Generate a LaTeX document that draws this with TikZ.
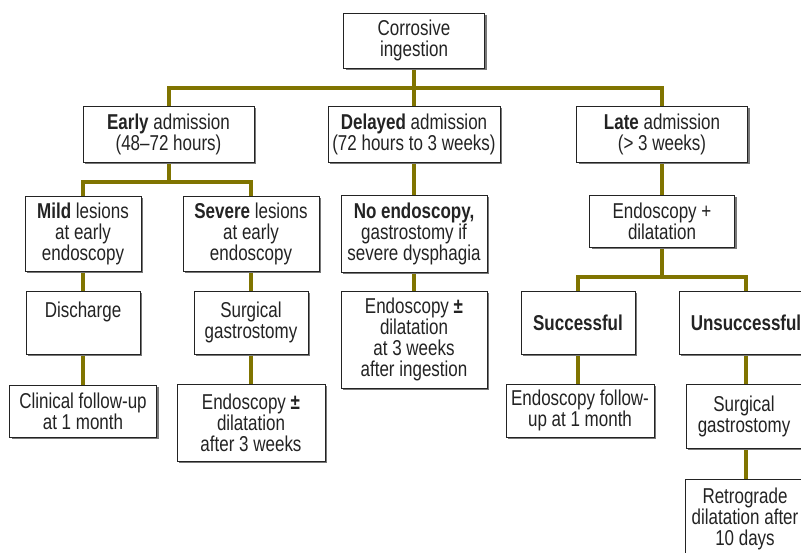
\documentclass[tikz,border=0pt]{standalone}
\usepackage{fontspec}
\setmainfont[FakeStretch=0.79]{Liberation Sans}
\usetikzlibrary{shadows,backgrounds}
\definecolor{olive}{RGB}{128,116,0}
\definecolor{txt}{RGB}{35,35,35}
\definecolor{shd}{RGB}{120,120,120}
\tikzset{
  box/.style={draw=txt, line width=0.9pt, fill=white, text=txt, align=center,
    inner sep=2pt, font=\fontsize{21.5}{21}\selectfont,
    drop shadow={shadow xshift=2.2pt, shadow yshift=-2.2pt, opacity=1, fill=shd}},
  conn/.style={draw=olive, line width=4pt}
}
\begin{document}
\begin{tikzpicture}[x=1pt,y=-1pt]
\clip (0,0) rectangle (801,552);
\useasboundingbox (0,0) rectangle (801,552);
% top level
\node[box, minimum width=141, minimum height=55] (root) at (414,40.5) {Corrosive\\ingestion};
\node[box, minimum width=171, minimum height=56] (early) at (168.5,134) {\textbf{Early} admission\\(48–72 hours)};
\node[box, minimum width=172, minimum height=56] (delayed) at (414,134) {\textbf{Delayed} admission\\(72 hours to 3 weeks)};
\node[box, minimum width=171, minimum height=56] (late) at (662,134) {\textbf{Late} admission\\(> 3 weeks)};
% early branch
\node[box, minimum width=116, minimum height=75] (mild) at (83,233.5) {\textbf{Mild} lesions\\at early\\endoscopy};
\node[box, minimum width=136, minimum height=75] (severe) at (251,233.5) {\textbf{Severe} lesions\\at early\\endoscopy};
\node[box, minimum width=114, minimum height=63] (discharge) at (83,322.5) {Discharge\\\phantom{g}};
\node[box, minimum width=114, minimum height=63] (surg1) at (251,322.5) {Surgical\\gastrostomy};
\node[box, minimum width=147, minimum height=52] (clin) at (83,411) {Clinical follow-up\\at 1 month};
\node[box, minimum width=148, minimum height=77] (endo2) at (251,422.5) {Endoscopy \textbf{±}\\dilatation\\after 3 weeks};
% delayed branch
\node[box, minimum width=146, minimum height=77] (noendo) at (414,233.5) {\textbf{No endoscopy,}\\gastrostomy if\\severe dysphagia};
\node[box, minimum width=146, minimum height=97] (endo3) at (414,339.5) {Endoscopy \textbf{±}\\dilatation\\at 3 weeks\\after ingestion};
% late branch
\node[box, minimum width=145, minimum height=52] (endodil) at (662,221) {Endoscopy +\\dilatation};
\node[box, minimum width=114, minimum height=63] (succ) at (578,322.5) {\textbf{Successful}};
\node[box, minimum width=134, minimum height=63] (unsucc) at (746,322.5) {\textbf{Unsuccessful}};
\node[box, minimum width=148, minimum height=53] (endofu) at (580,410.5) {Endoscopy follow-\\up at 1 month};
\node[box, minimum width=116, minimum height=64] (surg2) at (744,416) {Surgical\\gastrostomy};
\node[box, minimum width=120, minimum height=80] (retro) at (745,519) {Retrograde\\dilatation after\\10 days};
\coordinate (b1) at (414,88);
\coordinate (b2) at (168.5,182);
\coordinate (b3) at (662,277);
\begin{scope}[on background layer]
\draw[conn] (root.south) -- (delayed.north);
\draw[conn] (early.north) -- (early.north |- b1) -- (late.north |- b1) -- (late.north);
\draw[conn] (early.south) -- (b2);
\draw[conn] (mild.north) -- (mild.north |- b2) -- (severe.north |- b2) -- (severe.north);
\draw[conn] (mild.south) -- (discharge.north);
\draw[conn] (discharge.south) -- (clin.north);
\draw[conn] (severe.south) -- (surg1.north);
\draw[conn] (surg1.south) -- (endo2.north);
\draw[conn] (delayed.south) -- (noendo.north);
\draw[conn] (noendo.south) -- (endo3.north);
\draw[conn] (late.south) -- (endodil.north);
\draw[conn] (endodil.south) -- (b3);
\draw[conn] (succ.north) -- (succ.north |- b3) -- (unsucc.north |- b3) -- (unsucc.north);
\draw[conn] (succ.south) -- (succ.south |- endofu.north);
\draw[conn] (unsucc.south) -- (unsucc.south |- surg2.north);
\draw[conn] (unsucc.south |- surg2.south) -- (unsucc.south |- retro.north);
\end{scope}
\end{tikzpicture}
\end{document}
